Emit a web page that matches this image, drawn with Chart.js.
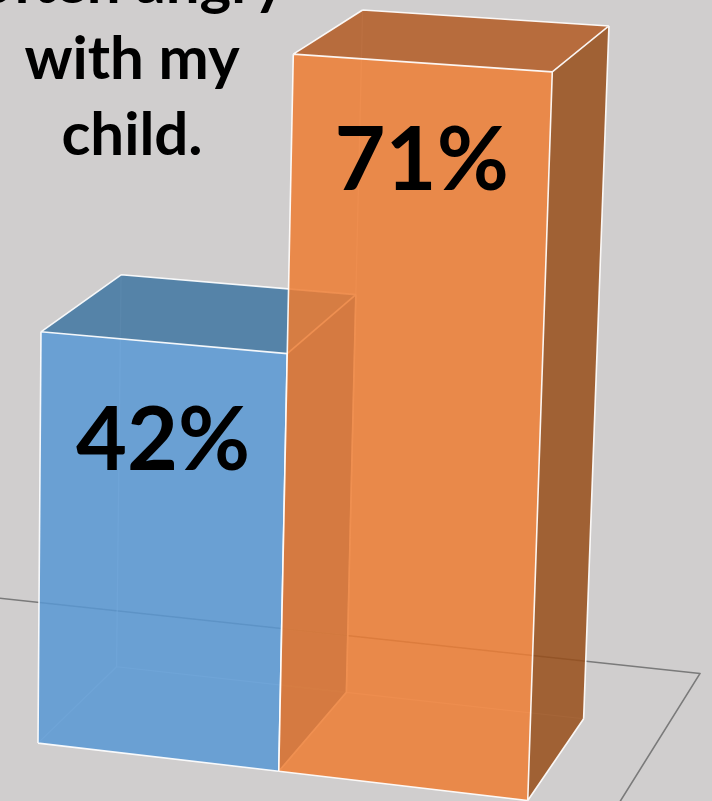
<!DOCTYPE html>
<html>
<head>
<meta charset="utf-8">
<script src="https://cdn.jsdelivr.net/npm/chart.js@4.4.0/dist/chart.umd.min.js"></script>
<style>
  html, body { margin: 0; padding: 0; background: #d0cece; }
  canvas { display: block; }
</style>
</head>
<body>
<canvas id="angryChart" width="712" height="801"></canvas>
<script>
const categories = ['Series 1', 'Series 2'];
const percentValues = [42, 71];
const titleLines = ['often angry', 'with my', 'child.'];

// fill colours per column: front, top and right-hand faces
const faceColors = [
  { front: 'rgba(88,152,212,0.85)', top: 'rgba(64,117,161,0.85)', side: 'rgba(55,100,140,0.85)' },
  { front: 'rgba(237,124,51,0.85)', top: 'rgba(179,91,35,0.85)', side: 'rgba(152,77,25,0.85)' }
];

// perspective camera looking down on the columns from the front right
const view = {
  yaw: 17.9, pitch: 13.4, roll: 0.57,
  focal: 4548, distance: 4548,
  centerX: 92, centerY: 281,
  shiftX: -49.4, shiftY: 462.6
};
const COLUMN_DEPTH = 258;

function project(X, Y, Z) {
  const b = view.yaw * Math.PI / 180;
  const p = view.pitch * Math.PI / 180;
  const r = view.roll * Math.PI / 180;
  const a = X * Math.cos(b) + Z * Math.sin(b);
  const c = -X * Math.sin(b) + Z * Math.cos(b);
  const xc = a + view.shiftX;
  const yc = -Y * Math.cos(p) - c * Math.sin(p) + view.shiftY;
  const zc = -Y * Math.sin(p) + c * Math.cos(p) + view.distance;
  const nx = xc / zc, ny = yc / zc;
  return [
    view.centerX + view.focal * (nx * Math.cos(r) - ny * Math.sin(r)),
    view.centerY + view.focal * (nx * Math.sin(r) + ny * Math.cos(r))
  ];
}

function fillPoly(ctx, pts, color) {
  ctx.beginPath();
  pts.forEach((p, i) => i ? ctx.lineTo(p[0], p[1]) : ctx.moveTo(p[0], p[1]));
  ctx.closePath();
  ctx.fillStyle = color;
  ctx.fill();
}

function strokeLines(ctx, pairs, color, width) {
  ctx.beginPath();
  pairs.forEach(([a, b]) => { ctx.moveTo(a[0], a[1]); ctx.lineTo(b[0], b[1]); });
  ctx.strokeStyle = color;
  ctx.lineWidth = width;
  ctx.stroke();
}

// draws the flat bar layout as 3-D columns on a floor
const columns3d = {
  id: 'columns3d',
  beforeDatasetsDraw(chart) {
    const { ctx, chartArea } = chart;
    const meta = chart.getDatasetMeta(0);
    const w = chartArea.right - chartArea.left;
    const d = COLUMN_DEPTH;

    ctx.save();
    ctx.lineJoin = 'round';

    // floor outline
    const fl = [[-w, 0, 1.72 * d], [1.17 * w, 0, 1.72 * d], [1.17 * w, 0, -d], [-w, 0, -d]].map(q => project(...q));
    ctx.beginPath();
    fl.forEach((p, i) => i ? ctx.lineTo(p[0], p[1]) : ctx.moveTo(p[0], p[1]));
    ctx.closePath();
    ctx.strokeStyle = '#7a7a7a';
    ctx.lineWidth = 1.6;
    ctx.stroke();

    meta.data.forEach((bar, i) => {
      const { x, y, base, width } = bar.getProps(['x', 'y', 'base', 'width'], true);
      const x0 = x - width / 2 - chartArea.left;
      const x1 = x + width / 2 - chartArea.left;
      const h = base - y;
      const P = (X, Y, Z) => project(X, Y, Z);
      const FBL = P(x0, 0, 0), FBR = P(x1, 0, 0), FTL = P(x0, h, 0), FTR = P(x1, h, 0);
      const BBL = P(x0, 0, d), BBR = P(x1, 0, d), BTL = P(x0, h, d), BTR = P(x1, h, d);
      const col = faceColors[i];

      // back edges, seen faintly through the faces
      strokeLines(ctx, [[BBL, BTL], [BBL, BBR], [FBL, BBL]], 'rgba(255,255,255,0.6)', 1.2);

      fillPoly(ctx, [FBR, BBR, BTR, FTR], col.side);
      fillPoly(ctx, [FTL, FTR, BTR, BTL], col.top);
      fillPoly(ctx, [FBL, FBR, FTR, FTL], col.front);

      strokeLines(ctx, [
        [FBL, FBR], [FBR, FTR], [FTR, FTL], [FTL, FBL],
        [FTR, BTR], [BTR, BTL], [BTL, FTL],
        [FBR, BBR], [BBR, BTR]
      ], 'rgba(255,255,255,0.92)', 1.6);
    });

    // value labels on the front faces
    ctx.fillStyle = '#000';
    ctx.font = 'bold 88px Lato, "Open Sans", sans-serif';
    ctx.textAlign = 'center';
    ctx.textBaseline = 'alphabetic';
    meta.data.forEach((bar, i) => {
      const { x, y } = bar.getProps(['x', 'y'], true);
      const top = project(x - chartArea.left, chartArea.bottom - y, 0);
      ctx.fillText(percentValues[i] + '%', top[0], top[1] + 127);
    });

    ctx.restore();
    return false;
  },
  afterDraw(chart) {
    const ctx = chart.ctx;
    ctx.save();
    ctx.fillStyle = '#000';
    ctx.font = 'bold 60px Lato, "Open Sans", sans-serif';
    ctx.textAlign = 'center';
    ctx.textBaseline = 'alphabetic';
    titleLines.forEach((line, i) => ctx.fillText(line, 132, 3 + i * 76));
    ctx.restore();
  }
};

const angryChart = document.getElementById('angryChart');
new Chart(angryChart, {
  type: 'bar',
  data: {
    labels: categories,
    datasets: [
    {
      data: percentValues,
      backgroundColor: faceColors.map(c => c.front),
      barPercentage: 1,
      categoryPercentage: 1
    }]
  },
  options: {
    responsive: false,
    animation: false,
    devicePixelRatio: 1,
    layout: {
      padding: { top: 22, bottom: 22, left: 106, right: 106 }
    },
    scales: {
      x: { display: false },
      y: { display: false, min: 0, max: 75 }
    },
    plugins: {
      legend: false,
      tooltip: {
        enabled: false
      }
    }
  },
  plugins: [columns3d]
});
</script>
</body>
</html>
